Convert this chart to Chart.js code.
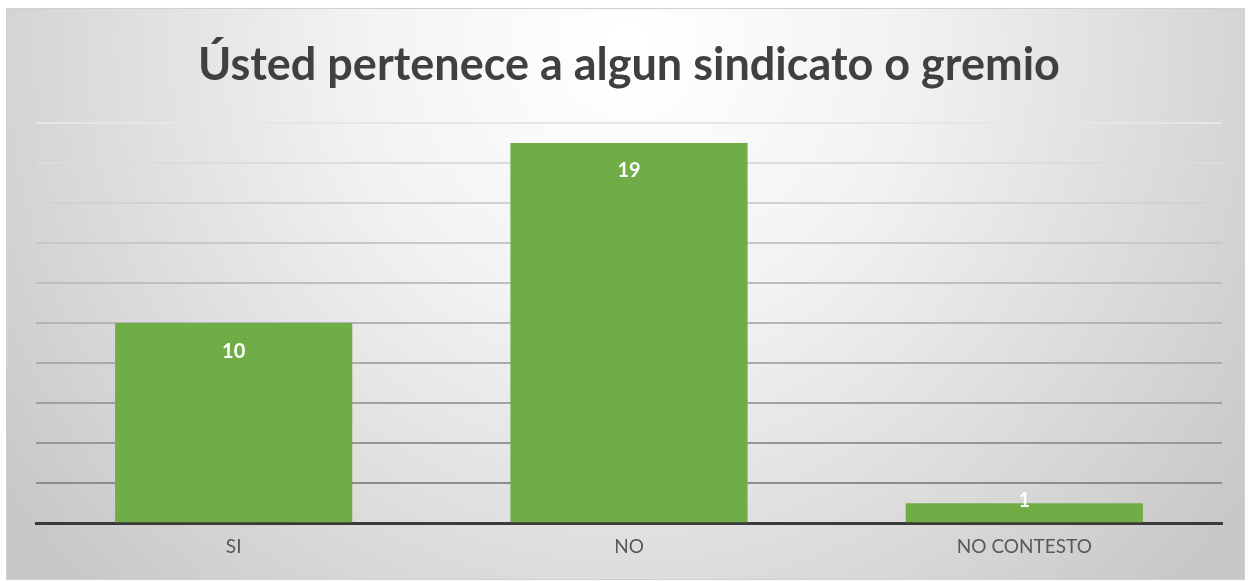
<!DOCTYPE html>
<html>
<head>
<meta charset="utf-8">
<script src="https://cdn.jsdelivr.net/npm/chart.js@4"></script>
<style>
  html, body { margin: 0; padding: 0; background: #ffffff; }
  #wrap { position: relative; width: 1251px; height: 581px; }
</style>
</head>
<body>
<div id="wrap"><canvas id="chart"></canvas></div>
<script>
// chart data
const categories = ['SI', 'NO', 'NO CONTESTO'];
const counts = [10, 19, 1];
const chartTitle = 'Ústed pertenece a algun sindicato o gremio';

const BAR_GREEN = '#70ad47';

// frame + radial gradient behind the chart, like the Excel style
const frameBackground = {
    id: 'frameBackground',
    beforeDraw(chart) {
        const ctx = chart.ctx;
        const x0 = 6, y0 = 8, x1 = 1245, y1 = 580;
        ctx.save();
        const g = ctx.createRadialGradient(628, 50, 20, 628, 50, 760);
        g.addColorStop(0, '#ffffff');
        g.addColorStop(0.35, '#f2f2f2');
        g.addColorStop(1, '#c8c8c8');
        ctx.fillStyle = g;
        ctx.fillRect(x0, y0, x1 - x0, y1 - y0);
        ctx.strokeStyle = '#d0d0d0';
        ctx.lineWidth = 1;
        ctx.strokeRect(x0 + 0.5, y0 + 0.5, x1 - x0 - 1, y1 - y0 - 1);
        ctx.restore();
    }
};

// white value labels at inside end of each bar
const valueLabels = {
    id: 'valueLabels',
    afterDatasetsDraw(chart) {
        const ctx = chart.ctx;
        const meta = chart.getDatasetMeta(0);
        ctx.save();
        ctx.font = "bold 20px Lato, 'Open Sans', sans-serif";
        ctx.fillStyle = '#ffffff';
        ctx.textAlign = 'center';
        ctx.textBaseline = 'middle';
        meta.data.forEach((bar, i) => {
            const h = bar.base - bar.y;
            const y = h > 40 ? bar.y + 28 : bar.y - 3;
            ctx.fillText(String(counts[i]), bar.x, y);
        });
        ctx.restore();
    }
};

function gridColor(c) {
    const v = c.tick ? c.tick.value : 0;
    if (v === 0) return 'rgba(0,0,0,0)';
    // lighter toward the top, darker near the baseline
    const t = (v - 2) / 18;
    const shade = Math.round(140 + t * 90);
    return `rgb(${shade},${shade},${shade})`;
}

new Chart(document.getElementById('chart'), {
    type: 'bar',
    data: {
        labels: categories,
        datasets: [{
            data: counts,
            backgroundColor: BAR_GREEN,
            borderWidth: 0,
            barPercentage: 0.6,
            categoryPercentage: 1
        }]
    },
    options: {
        responsive: true,
        maintainAspectRatio: false,
        animation: false,
        layout: { padding: { left: 36, right: 29, top: 14, bottom: 19 } },
        plugins: {
            legend: { display: false },
            tooltip: { enabled: false },
            title: {
                display: true,
                text: chartTitle,
                color: '#404040',
                font: { family: "Lato, 'Open Sans', sans-serif", size: 45, weight: 'bold' },
                padding: { top: 24, bottom: 31 }
            }
        },
        scales: {
            x: {
                grid: { display: false },
                border: { display: true, color: '#3a3a3a', width: 3 },
                ticks: {
                    color: '#595959',
                    padding: 4,
                    font: { family: "Lato, 'Open Sans', sans-serif", size: 19 }
                }
            },
            y: {
                min: 0,
                max: 20,
                ticks: { display: false, stepSize: 2 },
                border: { display: false },
                grid: { color: gridColor, lineWidth: 2, drawTicks: false }
            }
        }
    },
    plugins: [frameBackground, valueLabels]
});
</script>
</body>
</html>
